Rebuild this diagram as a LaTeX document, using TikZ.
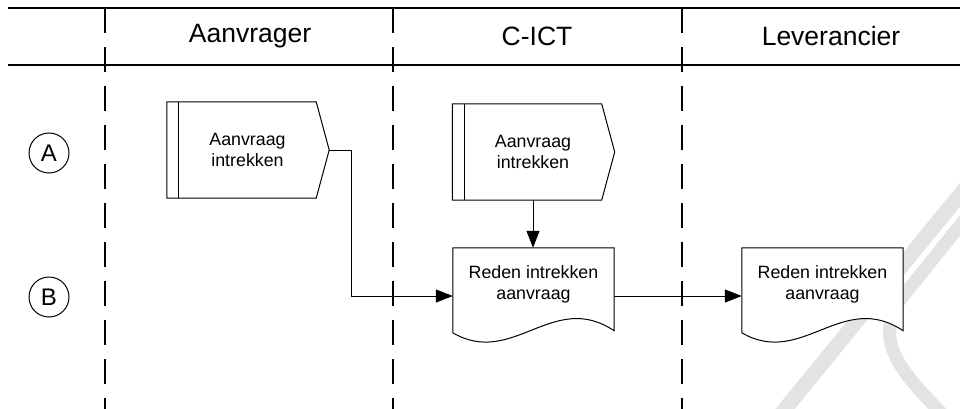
\documentclass[tikz,border=0pt]{standalone}
\usepackage{fontspec}
\setmainfont{Liberation Sans}
\usetikzlibrary{arrows.meta,calc}

\tikzset{
  lane/.style={line width=1.8pt, dash pattern=on 25pt off 14pt},
  hdr/.style={font=\fontsize{26.5}{30}\selectfont},
  task/.style={minimum width=137pt, minimum height=96pt, inner sep=0pt, align=center, font=\fontsize{17.8}{21}\selectfont},
  docbox/.style={minimum width=161pt, minimum height=96pt, inner sep=0pt},
  doctext/.style={align=center, font=\fontsize{17.8}{21}\selectfont},
  stap/.style={circle, draw, line width=1pt, minimum size=40pt, inner sep=0pt, font=\fontsize{24}{26}\selectfont},
  flow/.style={line width=1pt, -{Triangle[length=17pt,width=13pt]}},
  watermerk/.style={line width=15pt, color=black!11},
}

\newcommand{\taskoutline}[1]{%
  \draw[line width=1pt] ($(#1.north west)+(-12,0)$) -- (#1.north east) -- ($(#1.east)+(13,0)$)
    -- (#1.south east) -- ($(#1.south west)+(-12,0)$) -- cycle;
  \draw[line width=1pt] (#1.north west) -- (#1.south west);}
\newcommand{\docoutline}[1]{%
  \draw[line width=1pt, fill=white] ($(#1.north west)+(0,85)$) -- (#1.north west) -- (#1.north east)
    -- ($(#1.north east)+(0,83)$) .. controls +(-61,-41) and +(60,35) .. ($(#1.north west)+(0,85)$);}

\begin{document}
\begin{tikzpicture}[x=1pt,y=-1pt]
  \useasboundingbox (0,0) rectangle (960,409);
  \clip (0,0) rectangle (960,409);

  % watermerk
  \draw[watermerk] (972,180) -- (776,420);
  \draw[watermerk, line width=13pt] (966,218) -- (900,300) .. controls (870,345) and (910,380) .. (948,420);

  % lanes
  \draw[line width=1.8pt] (8,8) -- (960,8);
  \draw[line width=1.8pt] (8,65) -- (960,65);
  \foreach \x in {105,393,682}
    \draw[lane] (\x,8) -- (\x,409);

  \node[hdr] (aanvrager) at (250,36) {Aanvrager};
  \node[hdr] (cict) at (537,36) {C-ICT};
  \node[hdr] (leverancier) at (831,36) {Leverancier};

  \node[stap] (stapA) at (49,153) {A};
  \node[stap] (stapB) at (49,297) {B};

  % stappen
  \node[task] (intrek1) at (247.5,150) {Aanvraag\\intrekken};
  \taskoutline{intrek1}
  \node[task] (intrek2) at (533,152) {Aanvraag\\intrekken};
  \taskoutline{intrek2}

  \node[docbox] (reden1) at (533.5,296) {};
  \docoutline{reden1}
  \node[doctext] (reden1txt) at ($(reden1)+(0,-12)$) {Reden intrekken\\aanvraag};
  \node[docbox] (reden2) at (822.5,296) {};
  \docoutline{reden2}
  \node[doctext] (reden2txt) at ($(reden2)+(0,-12)$) {Reden intrekken\\aanvraag};

  % pijlen
  \draw[flow] ($(intrek1.east)+(13,0)$) -- ++(22,0) |- (reden1.west);
  \draw[flow] (intrek2.south) -- (intrek2.south |- reden1.north);
  \draw[flow] (reden1.east) -- (reden2.west);
\end{tikzpicture}
\end{document}
